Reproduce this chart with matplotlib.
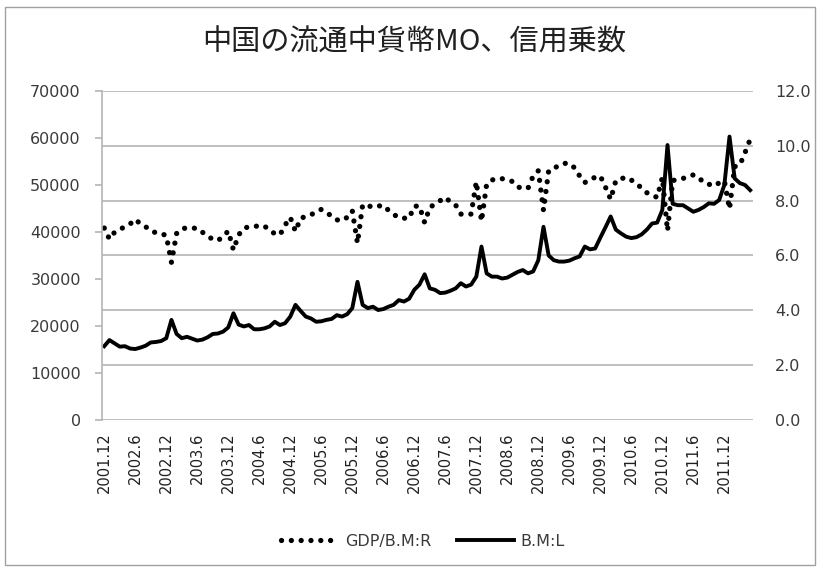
import numpy as np
import matplotlib
matplotlib.use("Agg")
import matplotlib.pyplot as plt
from matplotlib.patches import Rectangle

plt.rcParams['font.family'] = ['Noto Sans CJK JP', 'DejaVu Sans']

# monthly, 2001.12 .. 2012.5
months = []
for y in range(2001, 2013):
    for m in range(1, 13):
        if (y == 2001 and m < 12) or (y == 2012 and m > 5):
            continue
        months.append(f"{y}.{m}")

# B.M (left axis), 100 million yuan
bm = [
    15700, 17000, 16300, 15600, 15700, 15200, 15100, 15400, 15800, 16500, 16600, 16800,
    17400, 21300, 18300, 17400, 17700, 17300, 16900, 17100, 17600, 18300, 18400, 18800,
    19700, 22700, 20300, 19900, 20200, 19300, 19300, 19500, 19900, 20900, 20200, 20600,
    22000, 24500, 23200, 22000, 21600, 20900, 21000, 21300, 21500, 22300, 22000, 22500,
    23800, 29400, 24500, 23800, 24100, 23400, 23600, 24100, 24500, 25500, 25200, 25800,
    27700, 28800, 31000, 28000, 27700, 27000, 27100, 27500, 28000, 29100, 28400, 28800,
    30500, 36900, 31200, 30500, 30500, 30100, 30300, 30900, 31500, 31900, 31200, 31600,
    34000, 41100, 35000, 34000, 33700, 33700, 33900, 34400, 34800, 36900, 36300, 36500,
    38800, 41000, 43300, 40500, 39700, 39000, 38700, 38900, 39500, 40500, 41800, 42000,
    44700, 58500, 46000, 45700, 45700, 45000, 44300, 44700, 45300, 46100, 46000, 46800,
    50000, 60300, 51400, 50400, 50000, 48900,
]

# GDP/B.M (right axis)
ratio = [
    7.00, 6.60, 6.85, 6.95, 7.05, 7.15, 7.32, 7.15, 7.05, 6.90, 6.83, 6.81,
    6.72, 5.75, 6.80, 6.97, 7.01, 7.00, 6.99, 6.85, 6.69, 6.60, 6.54, 6.70,
    6.89, 6.20, 6.75, 6.99, 7.05, 7.06, 7.08, 7.08, 6.90, 6.80, 6.75, 7.11,
    7.39, 6.88, 7.36, 7.42, 7.48, 7.60, 7.68, 7.55, 7.45, 7.30, 7.27, 7.39,
    7.63, 6.45, 7.85, 7.82, 7.76, 7.80, 7.83, 7.65, 7.50, 7.38, 7.36, 7.36,
    7.80, 7.80, 7.20, 7.75, 7.88, 8.00, 8.12, 7.95, 7.84, 7.51, 7.51, 7.51,
    8.69, 7.25, 8.60, 8.75, 8.81, 8.80, 8.75, 8.70, 8.50, 8.45, 8.45, 8.90,
    9.09, 7.65, 9.09, 9.20, 9.26, 9.36, 9.36, 9.20, 8.90, 8.66, 8.78, 8.85,
    8.90, 8.49, 8.05, 8.73, 8.80, 8.85, 8.75, 8.63, 8.45, 8.29, 8.20, 8.12,
    8.85, 6.90, 8.73, 8.78, 8.81, 8.88, 8.94, 8.85, 8.66, 8.60, 8.53, 8.65,
    8.73, 7.70, 9.24, 9.30, 9.75, 10.24,
]

left_ticks = [0, 10000, 20000, 30000, 40000, 50000, 60000, 70000]
right_ticks = [0, 2, 4, 6, 8, 10, 12]

x = np.arange(len(months))
grey = '#b4b4b4'
txt = '#3a3a3a'
numfont = 'DejaVu Sans'

fig = plt.figure(figsize=(8.2, 5.68), dpi=100)
fig.patches.append(Rectangle((0.006, 0.006), 0.988, 0.982, transform=fig.transFigure,
                             fill=False, edgecolor='#a0a0a0', lw=1.0))

ax = fig.add_axes([0.124, 0.2606, 0.794, 0.5792])
ax2 = ax.twinx()

# secondary axis draws gridlines, so it goes behind
ax2.set_zorder(1)
ax.set_zorder(2)
ax.patch.set_visible(False)

ax2.set_ylim(0, 12)
ax2.set_yticks(right_ticks)
ax2.set_yticklabels([f"{v:.1f}" for v in right_ticks], fontsize=11.5, color=txt, family=numfont)
ax2.yaxis.grid(True, color=grey, lw=1.2)
ax2.tick_params(axis='y', length=0, pad=16)
ax2.plot(x, ratio, color='black', lw=3.8, linestyle=(0, (0.01, 1.85)),
         dash_capstyle='round', label='GDP/B.M:R')

ax.plot(x, bm, color='black', lw=2.8, solid_joinstyle='round', label='B.M:L')
ax.set_ylim(0, 70000)
ax.set_yticks(left_ticks)
ax.set_yticklabels([str(v) for v in left_ticks], fontsize=11.5, color=txt, family=numfont)
ax.tick_params(axis='y', length=5, color=grey, width=1.2, pad=10)
ax.set_xlim(-0.5, len(months) - 0.5)
ax.set_xticks(x[::6])
ax.set_xticklabels(months[::6], rotation=90, fontsize=10.5, color='#202020', family=numfont)
ax.tick_params(axis='x', length=0, pad=9)

for a in (ax, ax2):
    for s in ('top', 'right', 'bottom'):
        a.spines[s].set_visible(False)
ax2.spines['left'].set_visible(False)
ax.spines['left'].set_color(grey)
ax.spines['left'].set_linewidth(1.2)

fig.text(0.505, 0.925, '中国の流通中貨幣MO、信用乗数', ha='center', va='center', fontsize=21, color='#202020')

h1, l1 = ax2.get_legend_handles_labels()
h2, l2 = ax.get_legend_handles_labels()
fig.legend(h1 + h2, l1 + l2, loc='center', bbox_to_anchor=(0.516, 0.047), ncol=2, frameon=False,
           prop={'family': numfont, 'size': 11.5}, labelcolor=txt, handlelength=3.6,
           handletextpad=0.4, columnspacing=1.6)

fig.savefig('out.png', dpi=100)
